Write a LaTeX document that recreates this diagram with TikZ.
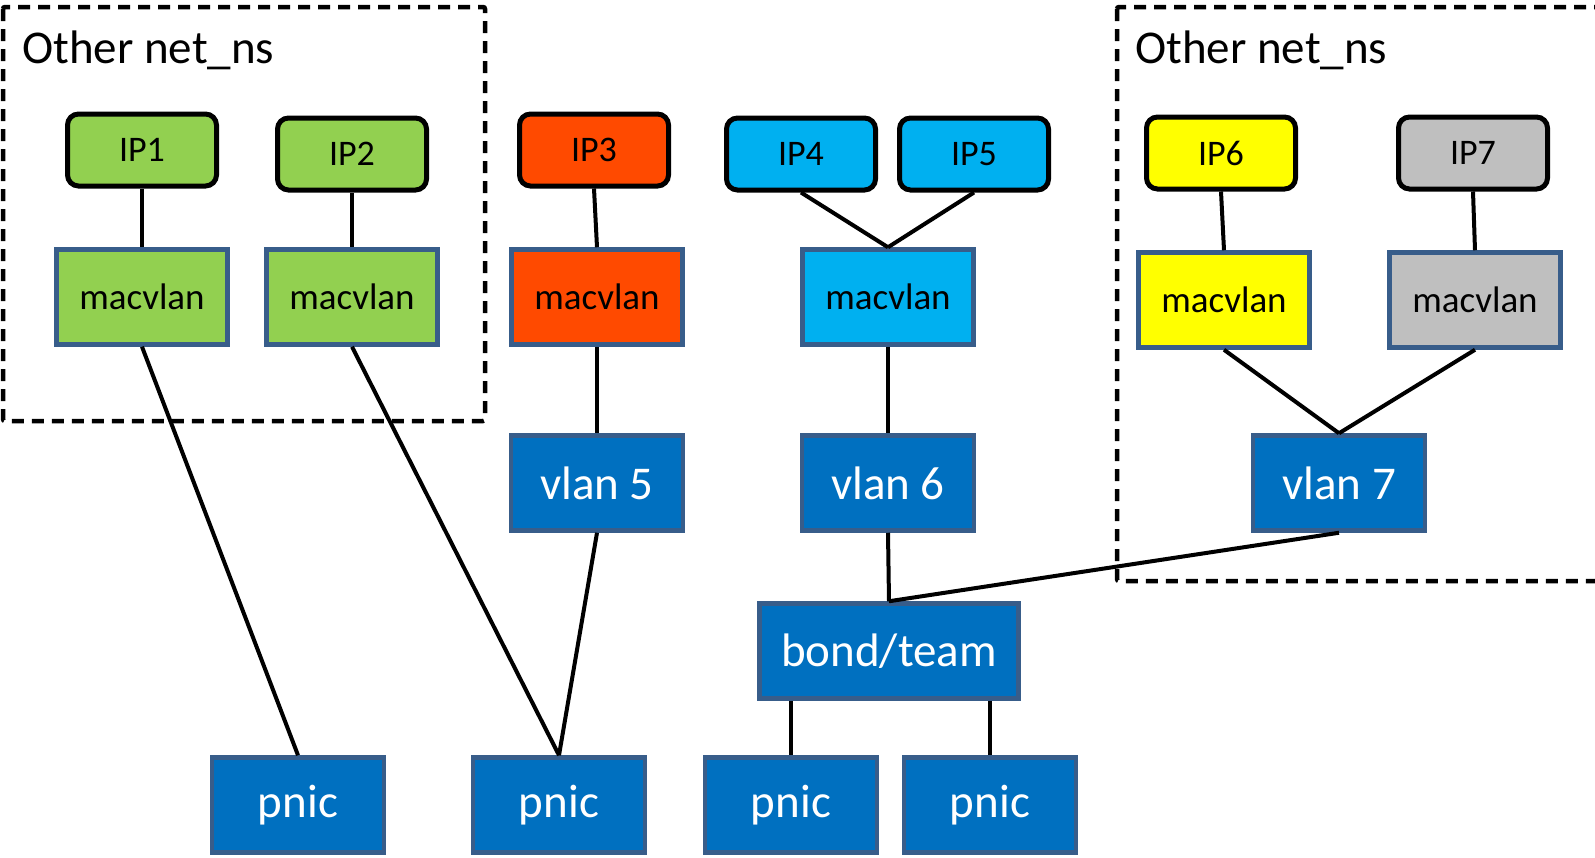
\documentclass[tikz,border=0pt]{standalone}
\usepackage{fontspec}
\setmainfont{Carlito}
\definecolor{cgreen}{HTML}{92D050}
\definecolor{cred}{HTML}{FF4A00}
\definecolor{ccyan}{HTML}{00B0F0}
\definecolor{cyellow}{HTML}{FFFF00}
\definecolor{cgray}{HTML}{BFBFBF}
\definecolor{cblue}{HTML}{0070C0}
\definecolor{cborder}{HTML}{385D8A}
\tikzset{
  ipbox/.style={draw=black, line width=5pt, rounded corners=11pt, minimum width=149pt, minimum height=72pt, inner sep=0pt, font=\fontsize{36}{43}\selectfont},
  macbox/.style={draw=cborder, line width=4.5pt, minimum width=171pt, minimum height=95pt, inner sep=0pt, font=\fontsize{37}{44}\selectfont},
  bigbox/.style={draw=cborder, line width=4.5pt, fill=cblue, text=white, minimum width=172pt, minimum height=95pt, inner sep=0pt, font=\fontsize{47}{56}\selectfont},
  conn/.style={draw=black, line width=4pt},
  nsbox/.style={draw=black, line width=4.5pt, dash pattern=on 12pt off 8pt, rounded corners=2pt},
  nslabel/.style={anchor=base west, inner sep=0pt, font=\fontsize{47}{56}\selectfont}
}
\begin{document}
\begin{tikzpicture}[x=1pt, y=-1pt]
\useasboundingbox (0,0) rectangle (1595,857);
\clip (0,0) rectangle (1595,857);
% namespaces
\draw[nsbox] (3,7) rectangle (485,421);
\draw[nsbox] (1117,7) rectangle (1620,581);
\node[nslabel] (ns1) at (22,63) {Other net\_ns};
\node[nslabel] (ns2) at (1135,63) {Other net\_ns};
% IP boxes
\node[ipbox, fill=cgreen] (ip1) at (142,150) {IP1};
\node[ipbox, fill=cgreen] (ip2) at (352,154) {IP2};
\node[ipbox, fill=cred] (ip3) at (594,150) {IP3};
\node[ipbox, fill=ccyan] (ip4) at (801,154) {IP4};
\node[ipbox, fill=ccyan] (ip5) at (974,154) {IP5};
\node[ipbox, fill=cyellow] (ip6) at (1221,153) {IP6};
\node[ipbox, fill=cgray] (ip7) at (1473,153) {IP7};
% macvlans
\node[macbox, fill=cgreen] (mac1) at (142,297) {macvlan};
\node[macbox, fill=cgreen] (mac2) at (352,297) {macvlan};
\node[macbox, fill=cred] (mac3) at (597,297) {macvlan};
\node[macbox, fill=ccyan] (mac4) at (888,297) {macvlan};
\node[macbox, fill=cyellow] (mac6) at (1224,300) {macvlan};
\node[macbox, fill=cgray] (mac7) at (1475,300) {macvlan};
% vlans
\node[bigbox] (vlan5) at (597,483) {vlan 5};
\node[bigbox] (vlan6) at (888,483) {vlan 6};
\node[bigbox] (vlan7) at (1339,483) {vlan 7};
\node[bigbox, minimum width=259pt] (bond) at (889,651) {bond/team};
% pnics
\node[bigbox] (pnic1) at (298,805) {pnic};
\node[bigbox] (pnic2) at (559,805) {pnic};
\node[bigbox] (pnic3) at (791,805) {pnic};
\node[bigbox] (pnic4) at (990,805) {pnic};
% connectors
\draw[conn] (ip1.south) -- (mac1.north);
\draw[conn] (ip2.south) -- (mac2.north);
\draw[conn] (ip3.south) -- (mac3.north);
\draw[conn] (ip4.south) -- (mac4.north);
\draw[conn] (ip5.south) -- (mac4.north);
\draw[conn] (ip6.south) -- (mac6.north);
\draw[conn] (ip7.south) -- (mac7.north);
\draw[conn] (mac1.south) -- (pnic1.north);
\draw[conn] (mac2.south) -- (pnic2.north);
\draw[conn] (mac3.south) -- (vlan5.north);
\draw[conn] (vlan5.south) -- (pnic2.north);
\draw[conn] (mac4.south) -- (vlan6.north);
\draw[conn] (vlan6.south) -- (bond.north);
\draw[conn] (mac6.south) -- (vlan7.north);
\draw[conn] (mac7.south) -- (vlan7.north);
\draw[conn] (vlan7.south) -- (bond.north);
\draw[conn] (bond.south -| pnic3.north) -- (pnic3.north);
\draw[conn] (bond.south -| pnic4.north) -- (pnic4.north);
\end{tikzpicture}
\end{document}
